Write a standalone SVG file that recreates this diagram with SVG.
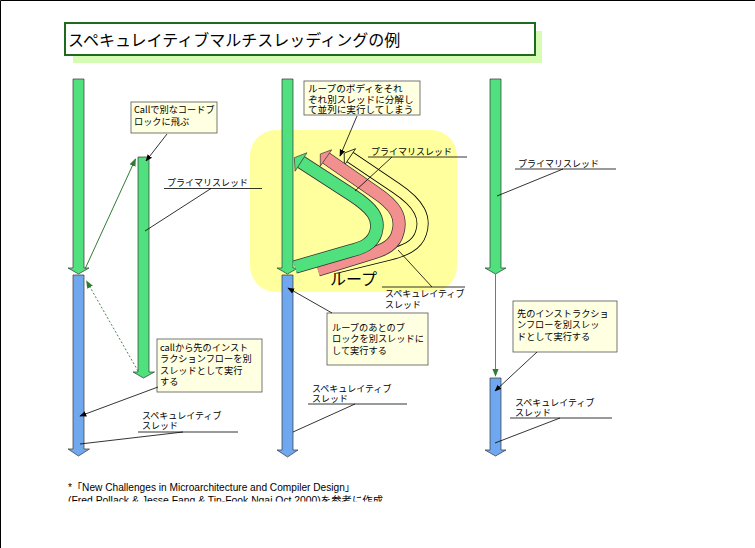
<svg xmlns="http://www.w3.org/2000/svg" width="755" height="548" viewBox="0 0 755 548">
<defs>
<style>
text{font-family:"Noto Sans CJK JP","Liberation Sans",sans-serif;fill:#000}
.lbl{font-size:9px}
.co{font-size:9.2px}
.co10{font-size:9.6px}
.callout{fill:#FFFFE1;stroke:#555;stroke-width:0.8}
.gbar{fill:#50E07E;stroke:#333;stroke-width:0.7}
.bbar{fill:#70A8F0;stroke:#333;stroke-width:0.7}
.ln{stroke:#000;stroke-width:0.8;fill:none}
.ptr{stroke:#000;stroke-width:0.8;fill:none;marker-end:url(#ah)}
.foot{font-family:"Liberation Sans","Noto Sans CJK JP",sans-serif;font-size:10px}
</style>
<marker id="ah" viewBox="0 0 10 10" refX="9" refY="5" markerWidth="7" markerHeight="7" orient="auto" markerUnits="userSpaceOnUse"><path d="M0,1 L10,5 L0,9 z" fill="#000"/></marker>
<marker id="ahg" viewBox="0 0 10 10" refX="9" refY="5" markerWidth="8" markerHeight="8" orient="auto" markerUnits="userSpaceOnUse"><path d="M0,1 L10,5 L0,9 z" fill="#2E7D32"/></marker>
<clipPath id="footclip"><rect x="0" y="470" width="755" height="31.5"/></clipPath>
</defs>
<rect x="0" y="0" width="755" height="548" fill="#fff"/>
<path d="M0.5 548 V0.5 H755" stroke="#000" stroke-width="1" fill="none"/>

<g id="title">
<rect x="73" y="31" width="469" height="32" fill="#D6FBB2"/>
<rect x="65" y="23" width="470" height="32" fill="#fff" stroke="#1E6B1E" stroke-width="2"/>
<text x="68" y="45.5" style="font-size:16px">スペキュレイティブマルチスレッディングの例</text>
</g>

<g id="loop-bg">
<rect x="250" y="130" width="207" height="162" rx="26" ry="26" fill="#FFFF9E"/>
</g>

<g id="col1-main-green">
<path class="gbar" d="M73 79 H84 V268 H89 L78.5 274 L68 268 H73 Z"/>
</g>
<g id="col1-spec-blue">
<path class="bbar" d="M73 275 H84 V449 H89.5 L78.5 456 L68 449 H73 Z"/>
</g>
<g id="col1-called-green">
<path class="gbar" d="M138 157 H149 V372 H154.5 L143.5 378 L133 372 H138 Z"/>
</g>

<g id="col2-main-green">
<path class="gbar" d="M282 79 H293 V268 H298 L287.5 274 L277 268 H282 Z"/>
</g>
<g id="col2-spec-blue">
<path class="bbar" d="M282 275 H293 V450 H298 L287.5 457 L277 450 H282 Z"/>
</g>

<g id="col2-loop">
<path d="M350 157 L396 188 C420 204 426 218 421 233 C417 246 404 251 388 255 L335 268" stroke="#000" stroke-width="12" fill="none"/>
<path d="M350 157 L396 188 C420 204 426 218 421 233 C417 246 404 251 388 255 L335 268" stroke="#FFFF9E" stroke-width="10.4" fill="none"/>
<polygon points="355.6,148.7 344.4,165.3 344.2,153.1" fill="#FFFF9E" stroke="#000" stroke-width="0.8"/>
<path d="M326 158 L375 192 C396 206 402 217 398 232 C395 245 384 250 370 254 L318 270" stroke="#333" stroke-width="13" fill="none"/>
<path d="M326 158 L375 192 C396 206 402 217 398 232 C395 245 384 250 370 254 L318 270" stroke="#F29090" stroke-width="11.5" fill="none"/>
<polygon points="331.7,149.8 320.3,166.2 320.3,154" fill="#F29090" stroke="#333" stroke-width="0.7"/>
<path d="M301 162 L352 195 C372 208 380 218 376 232 C373 244 362 248 350 251 L295 267" stroke="#333" stroke-width="13.5" fill="none"/>
<path d="M301 162 L352 195 C372 208 380 218 376 232 C373 244 362 248 350 251 L295 267" stroke="#50E07E" stroke-width="12" fill="none"/>
<polygon points="306.9,152.8 295.1,171.2 294.3,157.7" fill="#50E07E" stroke="#333" stroke-width="0.7"/>
<text x="330" y="285" style="font-size:16px">ループ</text>
</g>

<g id="col3-main-green">
<path class="gbar" d="M490 79 H501 V268 H506 L495.5 274 L485 268 H490 Z"/>
</g>
<g id="col3-spec-blue">
<path class="bbar" d="M490 378 H501 V450 H506 L495.5 456 L485 450 H490 Z"/>
</g>

<g id="callout-call">
<rect class="callout" x="131" y="102" width="86" height="31"/>
<text class="co" x="134" y="112.5">Callで別なコードブ</text>
<text class="co" x="134" y="124.5">ロックに飛ぶ</text>
</g>
<g id="callout-callafter">
<rect class="callout" x="157" y="339" width="105" height="53"/>
<text class="co" x="160" y="350.5">callから先のインスト</text>
<text class="co" x="160" y="362">ラクションフローを別</text>
<text class="co" x="160" y="373.5">スレッドとして実行</text>
<text class="co" x="160" y="385">する</text>
</g>
<g id="callout-loopbody">
<rect class="callout" x="304" y="81" width="116" height="34"/>
<text class="co10" x="308" y="91.5">ループのボディをそれ</text>
<text class="co10" x="308" y="102.5">ぞれ別スレッドに分解し</text>
<text class="co10" x="308" y="113">て並列に実行してしまう</text>
</g>
<g id="callout-afterloop">
<rect class="callout" x="327" y="313" width="101" height="52"/>
<text class="co" x="332" y="330.5">ループのあとのブ</text>
<text class="co" x="332" y="342">ロックを別スレッドに</text>
<text class="co" x="332" y="353.5">して実行する</text>
</g>
<g id="callout-nextflow">
<rect class="callout" x="513" y="301" width="104" height="51"/>
<text class="co" x="517" y="316.5">先のインストラクショ</text>
<text class="co" x="517" y="328">ンフローを別スレッ</text>
<text class="co" x="517" y="339.5">ドとして実行する</text>
</g>

<g id="label-col1-primary">
<text class="lbl" x="167" y="186">プライマリスレッド</text>
</g>
<g id="label-col1-spec">
<text class="lbl" x="142" y="418.5">スペキュレイティブ</text>
<text class="lbl" x="142" y="429">スレッド</text>
</g>
<g id="label-col2-primary">
<text class="lbl" x="371" y="154.5">プライマリスレッド</text>
</g>
<g id="label-col2-spec-loop">
<text class="lbl" x="385" y="297">スペキュレイティブ</text>
<text class="lbl" x="385" y="307.5">スレッド</text>
</g>
<g id="label-col2-spec">
<text class="lbl" x="312" y="391.5">スペキュレイティブ</text>
<text class="lbl" x="312" y="402">スレッド</text>
</g>
<g id="label-col3-primary">
<text class="lbl" x="518" y="166.5">プライマリスレッド</text>
</g>
<g id="label-col3-spec">
<text class="lbl" x="515" y="405.5">スペキュレイティブ</text>
<text class="lbl" x="515" y="416">スレッド</text>
</g>

<g id="footnote">
<text class="foot" x="68" y="491" textLength="287" lengthAdjust="spacingAndGlyphs">*「New Challenges in Microarchitecture and Compiler Design」</text>
<text class="foot" x="68" y="504" textLength="315" lengthAdjust="spacingAndGlyphs" clip-path="url(#footclip)">(Fred Pollack &amp; Jesse Fang &amp; Tin-Fook Ngai,Oct 2000)を参考に作成</text>
</g>

<g id="connectors">
<path d="M85 269 L135.5 159" stroke="#2E7D32" stroke-width="1" fill="none" marker-end="url(#ahg)"/>
<path d="M138 371 L86.5 281" stroke="#2E7D32" stroke-width="0.9" stroke-dasharray="2,2" fill="none" marker-end="url(#ahg)"/>
<path d="M495.5 274 L495.5 376" stroke="#777" stroke-width="1" fill="none" marker-end="url(#ahg)"/>

<path class="ptr" d="M167 134 L146 161"/>
<path class="ptr" d="M158 387 L80 416"/>
<path class="ptr" d="M357 116 L340 156"/>
<path class="ptr" d="M332 313 L288 288"/>
<path class="ptr" d="M537 352 L495 391"/>

<path class="ln" d="M164 188.5 H262 M211 188.5 L145 231"/>
<path class="ln" d="M138 432 H238 M183 432 L80 444"/>
<path class="ln" d="M368 157 H467 M392 157 L355 191"/>
<path class="ln" d="M382 287 H465 M432 287 L398 250"/>
<path class="ln" d="M308 404 H407 M355 404 L293 432"/>
<path class="ln" d="M515 169 H616 M563 169 L497 196"/>
<path class="ln" d="M510 418 H612 M560 418 L495 443"/>
</g>
</svg>
